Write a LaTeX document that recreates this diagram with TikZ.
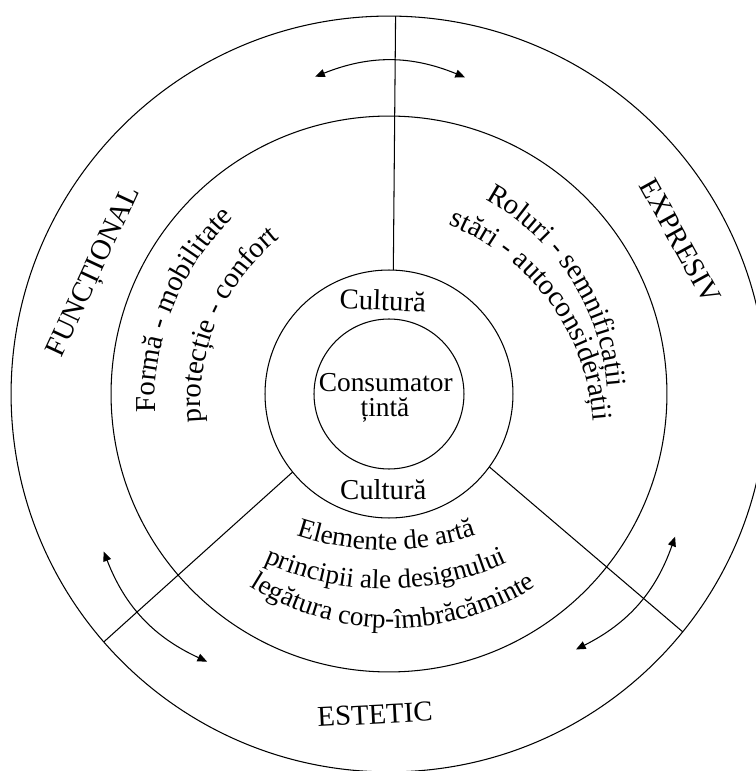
\documentclass[tikz,border=0pt]{standalone}
\usepackage{fontspec}
\setmainfont{Liberation Serif}
\usetikzlibrary{decorations.text,arrows.meta}
\newcommand\fA{\fontsize{16.4pt}{19pt}\selectfont}
\newcommand\fB{\fontsize{15.5pt}{18pt}\selectfont}
\newcommand\fC{\fontsize{15.6pt}{18pt}\selectfont}
\begin{document}
\begin{tikzpicture}[x=0.02cm,y=0.02cm,
  circ/.style={circle, draw, inner sep=0pt, outer sep=0pt, line width=0.6pt},
  lbl/.style={inner sep=0pt, font=\fA},
  conn/.style={line width=0.6pt},
  arr/.style={{Triangle[length=5.5pt,width=4.6pt]}-{Triangle[length=5.5pt,width=4.6pt]}, line width=0.6pt},
  arctext/.style={decorate, decoration={text along path, text align=center, text={#1}}}
]
\useasboundingbox (-389,-377) rectangle (367,394);
\clip (-389,-377) rectangle (367,394);
% circles
\node[circ, minimum size=15.12cm] (outer) at (0,0) {};
\node[circ, minimum size=11.12cm] (middle) at (0,0) {};
\node[circ, minimum size=4.96cm] (ring) at (0,0) {};
\node[circ, minimum size=3.0cm] (inner) at (0,0) {};
% radial separators
\draw[conn] (ring.88.6) -- (outer.89.5);
\draw[conn] (ring.219) -- (outer.221.5);
\draw[conn] (ring.324) -- (outer.321.5);
% centre texts
\node[inner sep=0pt, font=\fC, anchor=base] (cons1) at (-3.2,2.3) {Consumator};
\node[inner sep=0pt, font=\fC, anchor=base] (cons2) at (-4,-22.7) {țintă};
\node[lbl, anchor=base, rotate=-2] (cult1) at (-6.5,83.7) {Cultură};
\node[lbl, anchor=base] (cult2) at (-5.7,-105.3) {Cultură};
% outer ring labels
\node[lbl, anchor=base, rotate=65] (func) at (-288.3,119.4) {FUNCȚIONAL};
\node[lbl, anchor=base, rotate=-61] (expr) at (282.9,148.2) {EXPRESIV};
\node[lbl, anchor=base, rotate=3] (est) at (-13.5,-329.8) {ESTETIC};
% left block
\path[arctext={|\fA|Formă - mobilitate}] (21,-8) ++(193:255) arc[start angle=193, end angle=123, radius=255];
\path[arctext={|\fA|protecție - confort}] (21,-8) ++(197:209) arc[start angle=197, end angle=117, radius=209];
% right block
\path[arctext={|\fA|Roluri - semnificații}] (-14.4,-10.5) ++(73:233) arc[start angle=73, end angle=-7, radius=233];
\path[arctext={|\fA|stări - autoconsiderații}] (-24,-44) ++(76.4:229) arc[start angle=76.4, end angle=-3.6, radius=229];
% lower block
\path[arctext={|\fB|Elemente de artă}] (-3,126) ++(-125:282) arc[start angle=-125, end angle=-55, radius=282];
\path[arctext={|\fB|principii ale designului}] (-3,97) ++(-125:292) arc[start angle=-125, end angle=-55, radius=292];
\path[arctext={|\fB|legătura corp-îmbrăcăminte}] (4,34) ++(-130:268) arc[start angle=-130, end angle=-50, radius=268];
% arrows
\coordinate (t1) at (103.1:325.8);
\coordinate (t2) at (76.5:325.7);
\draw[arr] (t1) to[bend left=22] (t2);
\coordinate (l1) at (208.9:325.9);
\coordinate (l2) at (235.8:323.6);
\draw[arr] (l1) to[bend right=22] (l2);
\coordinate (r1) at (333.5:319.7);
\coordinate (r2) at (306.2:316.6);
\draw[arr] (r1) to[bend left=22] (r2);
\end{tikzpicture}
\end{document}
